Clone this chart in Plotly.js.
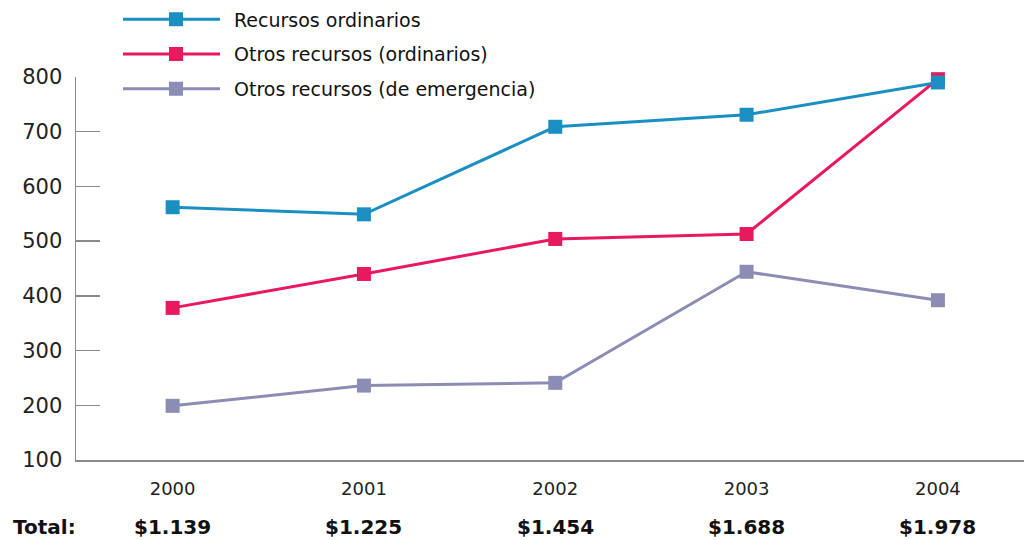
<!DOCTYPE html>
<html>
<head>
<meta charset="utf-8">
<script src="https://cdn.plot.ly/plotly-3.0.1.min.js"></script>
<style>html,body{margin:0;padding:0;background:#fff;}#chart{width:1024px;height:540px;}</style>
</head>
<body>
<div id="chart"></div>
<script>
const years = [2000, 2001, 2002, 2003, 2004];
const recursosOrdinarios = [562, 549, 709, 731, 790];
const otrosOrdinarios = [378, 440, 504, 513, 796];
const otrosEmergencia = [199, 236, 241, 444, 392];
const totals = ['$1.139', '$1.225', '$1.454', '$1.688', '$1.978'];
const seriesNames = ['Recursos ordinarios', 'Otros recursos (ordinarios)', 'Otros recursos (de emergencia)'];
const seriesColors = ['#1a8fc2', '#e8195c', '#8b8db4'];
const yTicks = [100, 200, 300, 400, 500, 600, 700, 800];
const midTicks = years.slice(1).map(y => y - 0.5);

const seriesValues = [recursosOrdinarios, otrosOrdinarios, otrosEmergencia];
// draw order: emergencia first, ordinarios (blue) last so it sits on top
const drawOrder = [2, 1, 0];
const traces = drawOrder.map(i => ({
  type: 'scatter',
  mode: 'lines+markers',
  x: years,
  y: seriesValues[i],
  name: seriesNames[i],
  legendgroup: 'g' + i,
  legendrank: 1000 + i,
  line: {color: seriesColors[i], width: 3},
  marker: {symbol: 'square', size: 14, color: seriesColors[i]},
  cliponaxis: false
}));

const axisColor = '#8a8a8a';
const totalsY = -0.174;
const annotations = years.map((yr, i) => ({
  x: yr, xref: 'x', y: totalsY, yref: 'paper',
  text: totals[i], showarrow: false, xanchor: 'center', yanchor: 'middle',
  font: {family: 'DejaVu Sans', size: 20, color: '#111', weight: 'bold'}
}));
annotations.push({
  x: -0.0685, xref: 'paper', y: totalsY, yref: 'paper', text: 'Total:',
  showarrow: false, xanchor: 'left', yanchor: 'middle',
  font: {family: 'DejaVu Sans', size: 20, color: '#111', weight: 'bold'}
});

const layout = {
  width: 1024, height: 540,
  margin: {l: 76, r: 0, t: 77, b: 80},
  paper_bgcolor: '#fff', plot_bgcolor: '#fff',
  showlegend: true,
  legend: {
    x: 0.0443, xanchor: 'left', y: 1.2, yanchor: 'top',
    font: {family: 'DejaVu Sans', size: 19, color: '#111'},
    itemwidth: 106, tracegroupgap: 7, bgcolor: 'rgba(0,0,0,0)',
    traceorder: 'grouped'
  },
  xaxis: {
    range: [1999.495, 2004.45],
    tickvals: years, ticktext: years.map(String), ticks: '',
    ticklabelstandoff: 12,
    showline: true, linecolor: axisColor, linewidth: 1.5,
    showgrid: false, zeroline: false,
    tickfont: {family: 'DejaVu Sans', size: 18, color: '#222'}
  },
  xaxis2: {
    overlaying: 'x', matches: 'x', anchor: 'y',
    tickvals: midTicks, ticks: 'inside', ticklen: 8, tickcolor: axisColor, tickwidth: 1.5,
    showticklabels: false, showline: false, showgrid: false, zeroline: false
  },
  yaxis: {
    range: [100, 800], tickvals: yTicks, ticks: 'inside', ticklen: 24,
    tickcolor: axisColor, tickwidth: 1.5,
    ticklabelstandoff: 8,
    showline: true, linecolor: axisColor, linewidth: 1.5,
    showgrid: false, zeroline: false,
    tickfont: {family: 'DejaVu Sans', size: 21, color: '#222'}
  },
  annotations: annotations
};

Plotly.newPlot('chart', traces, layout, {displayModeBar: false, staticPlot: true}).then(() => {
  document.querySelectorAll('.legend .legendlines path').forEach(p => p.setAttribute('d', 'M5,0h97'));
  document.querySelectorAll('.legend .legendpoints path').forEach(p => {
    const t = p.getAttribute('transform') || '';
    p.setAttribute('transform', t.replace(/translate\(\s*20/, 'translate(53'));
  });
});
</script>
</body>
</html>
